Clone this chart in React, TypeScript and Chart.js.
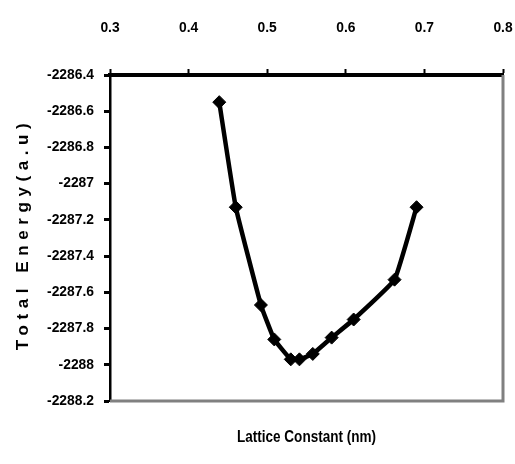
import React, { useEffect, useRef } from "react";
import { Chart, registerables } from "chart.js";

Chart.register(...registerables);

const latticeConstant = [0.439, 0.46, 0.492, 0.509, 0.53, 0.541, 0.558, 0.582, 0.61, 0.662, 0.69];
const totalEnergy = [-2286.55, -2287.13, -2287.67, -2287.86, -2287.97, -2287.97, -2287.94, -2287.85, -2287.75, -2287.53, -2287.13];
const xTickRange = { min: 0.3, max: 0.8, step: 0.1 };
const yTickRange = { min: -2288.2, max: -2286.4, step: 0.2 };
const xTitle = "Lattice Constant (nm)";
const yTitle = "Total Energy(a.u)";

const FAMILY = "'Liberation Sans', Arial, sans-serif";

function measure(text: string, font: string): number {
  const ctx = document.createElement("canvas").getContext("2d") as CanvasRenderingContext2D;
  ctx.font = font;
  return ctx.measureText(text).width;
}

function makePlugin(xScaleX: number, ySpacing: number) {
  return {
    id: "frameAndTitles",
    beforeDatasetsDraw(chart: any) {
      const { ctx, chartArea } = chart;
      ctx.save();
      ctx.strokeStyle = "#808080";
      ctx.lineWidth = 3;
      ctx.beginPath();
      ctx.moveTo(chartArea.right, chartArea.top);
      ctx.lineTo(chartArea.right, chartArea.bottom);
      ctx.lineTo(chartArea.left, chartArea.bottom);
      ctx.stroke();
      ctx.restore();
    },
    afterDraw(chart: any) {
      const { ctx, chartArea } = chart;
      ctx.save();
      ctx.fillStyle = "#000";
      ctx.textAlign = "center";
      ctx.textBaseline = "middle";
      ctx.font = `bold 16px ${FAMILY}`;
      ctx.translate((chartArea.left + chartArea.right) / 2, 438);
      ctx.scale(xScaleX, 1);
      ctx.fillText(xTitle, 0, 0);
      ctx.restore();
      ctx.save();
      ctx.fillStyle = "#000";
      ctx.textAlign = "center";
      ctx.textBaseline = "middle";
      ctx.translate(23, 234);
      ctx.rotate(-Math.PI / 2);
      ctx.font = `bold 17px ${FAMILY}`;
      try {
        (ctx as any).letterSpacing = `${ySpacing}px`;
      } catch (e) {}
      ctx.fillText(yTitle, 0, 0);
      ctx.restore();
    },
  };
}

export default function App() {
  const ref = useRef<HTMLCanvasElement | null>(null);
  useEffect(() => {
    if (!ref.current) return;
    // calibrate text sizes against the reference's measured text widths
    const w100 = measure("-2287.4", `bold 100px ${FAMILY}`);
    const tickSize = Math.max(11, Math.min(22, (47 * 100) / w100));
    const xTitleW = measure(xTitle, `bold 16px ${FAMILY}`);
    const xScaleX = Math.max(0.6, Math.min(1.2, 139 / xTitleW));
    const yTitleW = measure(yTitle, `bold 17px ${FAMILY}`);
    const ySpacing = Math.max(0, Math.min(8, (227 - yTitleW) / (yTitle.length - 1)));

    const fmt = (v: any) => String(Math.round(Number(v) * 10) / 10);
    const tickFont = { family: FAMILY, size: tickSize, weight: "bold" as any };
    const chart = new Chart(ref.current, {
      type: "line",
      data: {
        datasets: [
          {
            data: latticeConstant.map((x, i) => ({ x, y: totalEnergy[i] })),
            borderColor: "#000",
            backgroundColor: "#000",
            borderWidth: 4.5,
            tension: 0.1,
            pointStyle: "rectRot",
            pointRadius: 6.5,
            pointBorderWidth: 1,
            pointBackgroundColor: "#000",
            pointBorderColor: "#000",
            fill: false,
          },
        ],
      },
      options: {
        animation: false,
        responsive: false,
        layout: { padding: { left: 0, top: 0, right: 12, bottom: 63 } },
        plugins: { legend: { display: false }, tooltip: { enabled: false } },
        scales: {
          x: {
            type: "linear",
            position: "top",
            min: xTickRange.min,
            max: xTickRange.max,
            afterFit: (s: any) => {
              s.height = 75;
              s.paddingLeft = 0;
              s.paddingRight = 0;
            },
            ticks: {
              stepSize: xTickRange.step,
              padding: 33,
              color: "#000",
              font: tickFont,
              callback: fmt,
              maxRotation: 0,
              autoSkip: false,
            },
            grid: { drawOnChartArea: false, color: "#000", tickLength: 6, tickWidth: 2 },
            border: { color: "#000", width: 4 },
          },
          y: {
            type: "linear",
            min: yTickRange.min,
            max: yTickRange.max,
            afterFit: (s: any) => {
              s.width = 110;
              s.paddingTop = 0;
              s.paddingBottom = 0;
            },
            ticks: {
              stepSize: yTickRange.step,
              padding: 10,
              color: "#000",
              font: tickFont,
              callback: fmt,
              autoSkip: false,
            },
            grid: { drawOnChartArea: false, color: "#000", tickLength: 6, tickWidth: 3 },
            border: { color: "#000", width: 2.5 },
          },
        },
      },
      plugins: [makePlugin(xScaleX, ySpacing)],
    });
    return () => chart.destroy();
  }, []);
  return (
    <div style={{ position: "absolute", left: 0, top: 0, width: 515, height: 464, background: "#fff" }}>
      <canvas ref={ref} width={515} height={464} />
    </div>
  );
}
